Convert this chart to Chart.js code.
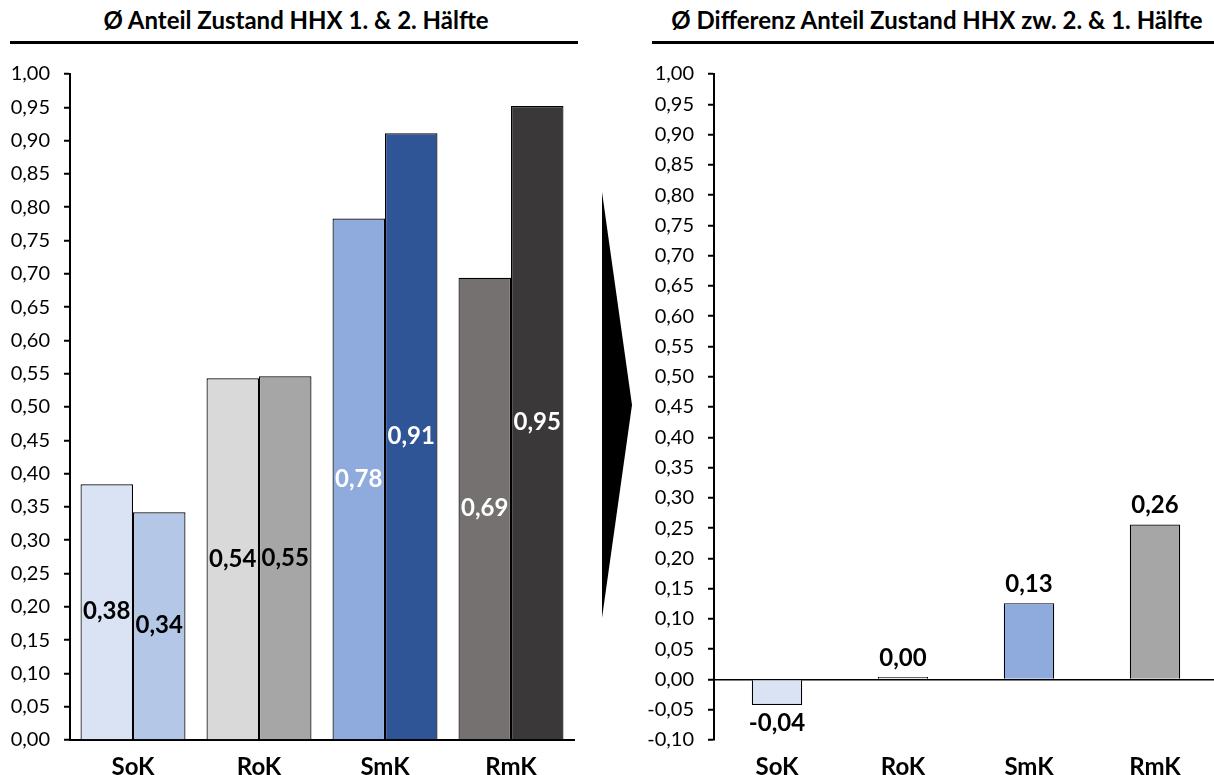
<!DOCTYPE html>
<html>
<head>
<meta charset="utf-8">
<script src="https://cdn.jsdelivr.net/npm/chart.js@4.4.1/dist/chart.umd.min.js"></script>
<style>
  html, body { margin: 0; padding: 0; width: 1214px; height: 775px; overflow: hidden; background: #fff; }
  .title {
    position: absolute; top: 7px; height: 26px; line-height: 26px; padding-bottom: 8px;
    font-family: Lato, "Open Sans", sans-serif; font-weight: bold; font-size: 24px; color: #000;
    text-align: center; white-space: nowrap; border-bottom: 3px solid #000;
  }
  canvas { position: absolute; top: 0; }
  #arrow { position: absolute; left: 0; top: 0; }
</style>
</head>
<body>
<div class="title" style="left:10px; width:564px; padding-left:4px;">Ø Anteil Zustand HHX 1. &amp; 2. Hälfte</div>
<div class="title" style="left:652px; width:570px;">Ø Differenz Anteil Zustand HHX zw. 2. &amp; 1. Hälfte</div>

<svg id="arrow" width="1214" height="775">
  <polygon points="602,192 632,405 602,618" fill="#000"/>
</svg>

<canvas id="halves" width="600" height="775" style="left:0px;"></canvas>
<canvas id="diff" width="620" height="775" style="left:600px;"></canvas>

<script>
// Categories and values
const categories = ['SoK', 'RoK', 'SmK', 'RmK'];
const firstHalf  = [0.384, 0.543, 0.783, 0.694];
const secondHalf = [0.342, 0.546, 0.911, 0.952];
const difference = [-0.042, 0.004, 0.126, 0.256];

// Axis ranges and tick spacing
const halvesAxis = { min: 0.00, max: 1.00, step: 0.05 };
const diffAxis   = { min: -0.10, max: 1.00, step: 0.05 };

// Colours
const firstColors  = ['#DAE3F3', '#D9D9D9', '#8FAADC', '#767171'];
const secondColors = ['#B4C7E7', '#A6A6A6', '#2F5597', '#3A3838'];
const diffColors   = ['#DAE3F3', '#D9D9D9', '#8FAADC', '#A6A6A6'];
const firstLabelColors  = ['#000', '#000', '#fff', '#fff'];
const secondLabelColors = ['#000', '#000', '#fff', '#fff'];

const FONT = 'Lato, "Open Sans", sans-serif';
Chart.defaults.font.family = FONT;
Chart.defaults.color = '#000';

const fmt = v => v.toFixed(2).replace('.', ',');

// Draws the value of each bar, either centred in the bar or just outside its end
const valueLabels = {
  id: 'valueLabels',
  afterDatasetsDraw(chart, args, opts) {
    const ctx = chart.ctx;
    ctx.save();
    ctx.font = 'bold 24px ' + FONT;
    ctx.textAlign = 'center';
    ctx.textBaseline = 'middle';
    chart.data.datasets.forEach((ds, di) => {
      const meta = chart.getDatasetMeta(di);
      meta.data.forEach((bar, i) => {
        const v = ds.data[i];
        let y;
        if (opts.mode === 'center') {
          y = (bar.y + bar.base) / 2;
        } else {
          y = v >= 0 ? bar.y - opts.above : bar.y + opts.below;
        }
        ctx.fillStyle = opts.colors ? opts.colors[di][i] : '#000';
        ctx.fillText(fmt(v), bar.x, y);
      });
    });
    ctx.restore();
  }
};

function yScale(range, axisWidth, zeroLine) {
  return {
    min: range.min,
    max: range.max,
    afterFit(scale) { scale.width = axisWidth; },
    ticks: {
      stepSize: range.step,
      autoSkip: false,
      padding: 14,
      font: { size: 20 },
      color: '#000',
      callback: v => fmt(v)
    },
    grid: {
      drawOnChartArea: zeroLine,
      color: c => (zeroLine && c.tick && Math.abs(c.tick.value) < 1e-9) ? '#000' : 'rgba(0,0,0,0)',
      lineWidth: 1.5,
      drawTicks: true,
      tickLength: 6,
      tickColor: '#000',
      tickWidth: 2
    },
    border: { display: true, color: '#000', width: 2 }
  };
}

function xScale(showBorder) {
  return {
    afterFit(scale) { scale.height = 35; },
    ticks: { padding: 13, font: { size: 24, weight: 'bold' }, color: '#000' },
    grid: { display: false, drawTicks: false },
    border: { display: showBorder, color: '#000', width: 2 }
  };
}

new Chart(document.getElementById('halves'), {
  type: 'bar',
  data: {
    labels: categories,
    datasets: [
      { label: '1. Hälfte', data: firstHalf, backgroundColor: firstColors,
        borderColor: '#000', borderWidth: 1.2, categoryPercentage: 0.833, barPercentage: 1 },
      { label: '2. Hälfte', data: secondHalf, backgroundColor: secondColors,
        borderColor: '#000', borderWidth: 1.2, categoryPercentage: 0.833, barPercentage: 1 }
    ]
  },
  options: {
    responsive: false,
    animation: false,
    layout: { padding: { left: 0, right: 26, top: 74, bottom: 0 } },
    scales: { x: xScale(true), y: yScale(halvesAxis, 70, false) },
    plugins: {
      legend: { display: false },
      tooltip: { enabled: false },
      valueLabels: { mode: 'center', colors: [firstLabelColors, secondLabelColors] }
    }
  },
  plugins: [valueLabels]
});

new Chart(document.getElementById('diff'), {
  type: 'bar',
  data: {
    labels: categories,
    datasets: [
      { label: 'Differenz', data: difference, backgroundColor: diffColors,
        borderColor: '#000', borderWidth: 1.2, categoryPercentage: 0.4, barPercentage: 1 }
    ]
  },
  options: {
    responsive: false,
    animation: false,
    layout: { padding: { left: 0, right: 2, top: 74, bottom: 0 } },
    scales: { x: xScale(false), y: yScale(diffAxis, 114, true) },
    plugins: {
      legend: { display: false },
      tooltip: { enabled: false },
      valueLabels: { mode: 'outside', above: 19, below: 18 }
    }
  },
  plugins: [valueLabels]
});
</script>
</body>
</html>
